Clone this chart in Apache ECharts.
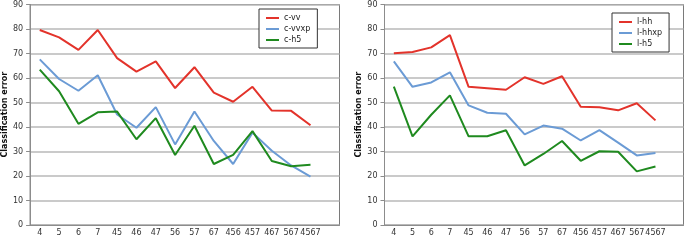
<!DOCTYPE html>
<html>
<head>
<meta charset="utf-8">
<script src="https://cdn.jsdelivr.net/npm/echarts@6/dist/echarts.min.js"></script>
<style>
  html, body { margin: 0; padding: 0; background: #fff; }
  #chart { width: 685px; height: 240px; }
</style>
</head>
<body>
<div id="chart"></div>
<script>
const categories = ['4', '5', '6', '7', '45', '46', '47', '56', '57', '67', '456', '457', '467', '567', '4567']
const yTicks = [0, 10, 20, 30, 40, 50, 60, 70, 80, 90]

// left panel
const cVv = [79.6, 76.6, 71.5, 79.6, 68.1, 62.6, 66.8, 55.9, 64.4, 54.0, 50.3, 56.4, 46.7, 46.6, 40.7]
const cVvxp = [67.6, 59.6, 54.8, 61.1, 45.1, 39.7, 48.1, 32.9, 46.3, 34.3, 24.9, 37.7, 30.3, 24.3, 19.7]
const cH5 = [63.4, 54.6, 41.3, 46.0, 46.3, 35.0, 43.6, 28.6, 40.5, 24.9, 28.6, 38.3, 26.1, 24.0, 24.6]

// right panel
const lHh = [70.1, 70.6, 72.5, 77.5, 56.4, 55.8, 55.2, 60.3, 57.6, 60.7, 48.3, 48.1, 46.8, 49.7, 42.7]
const lHhxp = [66.8, 56.4, 58.2, 62.3, 48.8, 45.8, 45.4, 37.0, 40.6, 39.3, 34.5, 38.7, 33.6, 28.4, 29.4]
const lH5 = [56.5, 36.2, 45.0, 52.9, 36.2, 36.2, 38.7, 24.3, 29.0, 34.3, 26.2, 30.1, 29.9, 21.9, 23.9]

const RED = '#e3332b'
const BLUE = '#6b9bd5'
const GREEN = '#1f8a1f'
const FONT = 'DejaVu Sans'

const chart = echarts.init(document.getElementById('chart'))

// one empty slot after the last category, like the original plot
const xCats = categories.concat([''])

const xAxisFor = (gridIndex) => ({
  type: 'category',
  gridIndex,
  data: xCats,
  boundaryGap: true,
  axisLine: { lineStyle: { color: '#8c8c8c', width: 1 } },
  axisTick: { length: 3, lineStyle: { color: '#8c8c8c' } },
  axisLabel: { color: '#333', fontFamily: FONT, fontSize: 8, margin: 4, interval: 0 },
  splitLine: { show: false },
})

const yAxisFor = (gridIndex, gap) => ({
  type: 'value',
  gridIndex,
  min: yTicks[0],
  max: yTicks[yTicks.length - 1],
  interval: 10,
  name: 'Classification error',
  nameLocation: 'middle',
  nameGap: gap,
  nameTextStyle: { color: '#111', fontFamily: FONT, fontSize: 8, fontWeight: 'bold' },
  axisLine: { show: true, lineStyle: { color: '#8c8c8c', width: 1 } },
  axisTick: { show: true, inside: false, length: 4, lineStyle: { color: '#8c8c8c' } },
  axisLabel: { color: '#333', fontFamily: FONT, fontSize: 8, margin: 7 },
  splitLine: { lineStyle: { color: '#b8b8b8', width: 1.5 } },
})

const line = (name, data, color, idx) => ({
  name,
  type: 'line',
  xAxisIndex: idx,
  yAxisIndex: idx,
  data,
  symbol: 'none',
  smooth: false,
  lineStyle: { color, width: 2 },
  itemStyle: { color },
  animation: false,
})

const legendFor = (names, left, top) => ({
  orient: 'vertical',
  left,
  top,
  data: names,
  icon: 'rect',
  itemWidth: 13,
  itemHeight: 2,
  itemGap: 1,
  padding: [4, 7, 3, 7],
  borderColor: '#333',
  borderWidth: 1,
  backgroundColor: '#fff',
  textStyle: { color: '#222', fontFamily: FONT, fontSize: 8, lineHeight: 10 },
})

const option = {
  backgroundColor: '#fff',
  animation: false,
  grid: [
    { left: 29.5, top: 4.5, width: 310, bottom: 15, show: true, borderColor: '#7a7a7a', borderWidth: 1 },
    { left: 384.5, top: 4.5, width: 299, bottom: 15, show: true, borderColor: '#7a7a7a', borderWidth: 1 },
  ],
  xAxis: [xAxisFor(0), xAxisFor(1)],
  yAxis: [yAxisFor(0, 20), yAxisFor(1, 21)],
  legend: [
    legendFor(['c-vv', 'c-vvxp', 'c-h5'], 259, 9),
    legendFor(['l-hh', 'l-hhxp', 'l-h5'], 612, 13),
  ],
  series: [
    line('c-vv', cVv, RED, 0),
    line('c-vvxp', cVvxp, BLUE, 0),
    line('c-h5', cH5, GREEN, 0),
    line('l-hh', lHh, RED, 1),
    line('l-hhxp', lHhxp, BLUE, 1),
    line('l-h5', lH5, GREEN, 1),
  ],
}

chart.setOption(option)
</script>
</body>
</html>
